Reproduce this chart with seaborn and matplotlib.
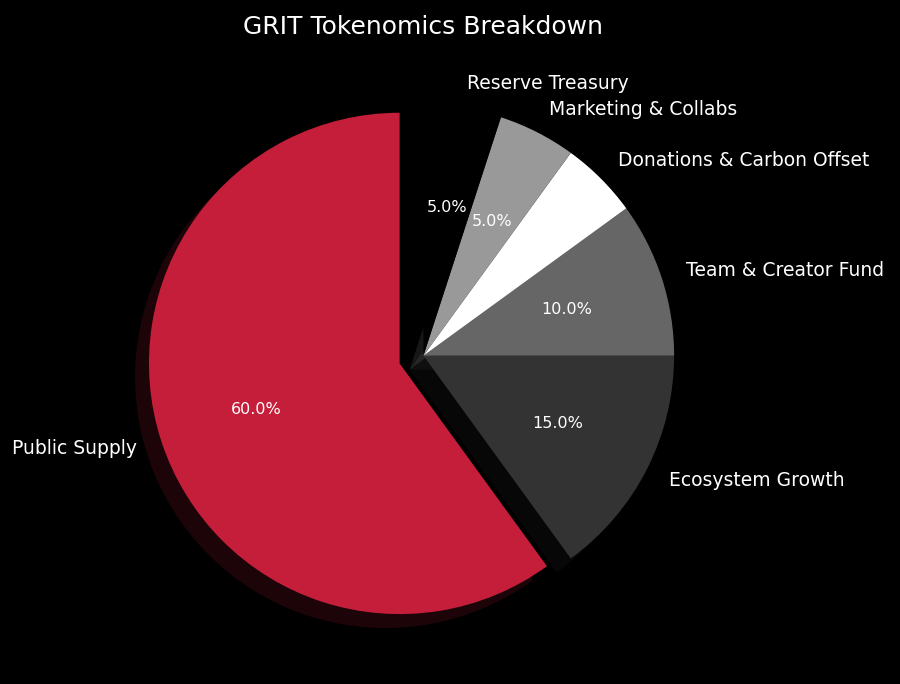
import numpy as np
import pandas as pd
import matplotlib
matplotlib.use("Agg")
import matplotlib.pyplot as plt
import seaborn as sns

# token allocation
labels = ['Public Supply', 'Ecosystem Growth', 'Team & Creator Fund',
          'Donations & Carbon Offset', 'Marketing & Collabs', 'Reserve Treasury']
shares = [60, 15, 10, 5, 5, 5]
colors = ['#C41E3A', '#333333', '#666666', '#FFFFFF', '#999999', '#000000']
explode = [0.1, 0, 0, 0, 0, 0]

sns.set_style("dark")
plt.rcParams['font.family'] = ['DejaVu Sans']

fig, ax = plt.subplots(figsize=(9, 6.84), dpi=100)
fig.patch.set_facecolor('black')
ax.set_facecolor('black')

wedges, texts, autotexts = ax.pie(shares, labels=labels, colors=colors, explode=explode,
                                  autopct='%1.1f%%', startangle=90,
                                  shadow={'ox': -0.04, 'oy': -0.04},
                                  wedgeprops={'linewidth': 0},
                                  textprops={'color': 'white', 'fontsize': 13.5})
for t in autotexts:
    t.set_fontsize(11.5)
    t.set_color('white')

ax.set_title('GRIT Tokenomics Breakdown', color='white', fontsize=18)
plt.tight_layout()
plt.savefig('out.png', facecolor=fig.get_facecolor())
